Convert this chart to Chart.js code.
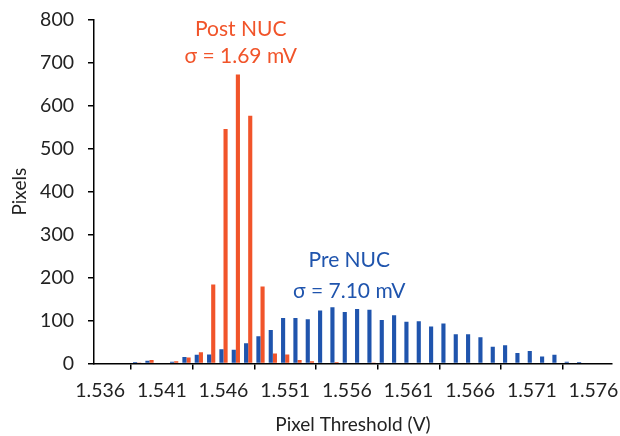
<!DOCTYPE html>
<html>
<head>
<meta charset="utf-8">
<script src="https://cdn.jsdelivr.net/npm/chart.js@4/dist/chart.umd.min.js"></script>
<style>
  html, body { margin: 0; padding: 0; background: #fff; }
  #wrap { width: 620px; height: 436px; }
</style>
</head>
<body>
<div id="wrap"><canvas id="histChart" width="620" height="436"></canvas></div>
<script>
// threshold bins, 1 mV wide
const thresholds = ["1.536", "1.537", "1.538", "1.539", "1.540", "1.541", "1.542", "1.543", "1.544", "1.545",
  "1.546", "1.547", "1.548", "1.549", "1.550", "1.551", "1.552", "1.553", "1.554", "1.555",
  "1.556", "1.557", "1.558", "1.559", "1.560", "1.561", "1.562", "1.563", "1.564", "1.565",
  "1.566", "1.567", "1.568", "1.569", "1.570", "1.571", "1.572", "1.573", "1.574", "1.575",
  "1.576", "1.577"];

// pixel counts per bin
const preNuc = [0, 0, 0, 3, 6, 0, 4, 15, 20, 21,
  33, 32, 47, 63, 78, 106, 106, 103, 123, 131,
  120, 127, 125, 101, 112, 97, 98, 86, 93, 68,
  68, 61, 39, 42, 24, 29, 16, 20, 4, 3,
  0, 0];
const postNuc = [0, 0, 0, 2, 8, 0, 5, 14, 26, 184,
  546, 673, 577, 179, 23, 21, 8, 5, 0, 3,
  0, 0, 1, 0, 0, 0, 0, 0, 0, 0,
  0, 0, 0, 0, 0, 0, 0, 0, 0, 0,
  0, 0];

const yTicks = [0, 100, 200, 300, 400, 500, 600, 700, 800];

const BLUE = "#1f54ad";
const ORANGE = "#f1542a";
const FONT = "Lato, 'Open Sans', sans-serif";

// sigma notes, placed in data coordinates (bin index, count)
const notes = [
  { lines: ["Post NUC", "σ = 1.69 mV"], x: 11.4, y: [779, 715], color: ORANGE },
  { lines: ["Pre NUC", "σ = 7.10 mV"], x: 20.2, y: [240, 167], color: BLUE }
];

const notePlugin = {
  id: "notes",
  afterDatasetsDraw(chart) {
    const { ctx, scales } = chart;
    ctx.save();
    ctx.font = "21px " + FONT;
    ctx.textAlign = "center";
    ctx.textBaseline = "middle";
    notes.forEach(n => {
      ctx.fillStyle = n.color;
      const px = scales.x.getPixelForValue(n.x);
      n.lines.forEach((t, i) => ctx.fillText(t, px, scales.y.getPixelForValue(n.y[i])));
    });
    ctx.restore();
  }
};

new Chart(document.getElementById("histChart"), {
  type: "bar",
  data: {
    labels: thresholds,
    datasets: [
      { label: "Pre NUC", data: preNuc, backgroundColor: BLUE },
      { label: "Post NUC", data: postNuc, backgroundColor: ORANGE }
    ]
  },
  options: {
    responsive: false,
    animation: false,
    devicePixelRatio: 1,
    layout: { padding: { top: 20, right: 8, left: 0, bottom: 0 } },
    datasets: { bar: { categoryPercentage: 0.67, barPercentage: 1.0 } },
    plugins: { legend: { display: false }, tooltip: { enabled: false } },
    scales: {
      x: {
        grid: { offset: true, drawOnChartArea: false, drawTicks: true, tickLength: 6, color: "#000", lineWidth: 1.5 },
        border: { display: true, color: "#000", width: 1.5 },
        ticks: {
          autoSkip: false,
          maxRotation: 0,
          padding: 10,
          color: "#222",
          font: { family: FONT, size: 19.5 },
          callback: (v, i) => (i % 5 === 0 ? thresholds[i] : null)
        },
        title: { display: true, text: "Pixel Threshold (V)", color: "#222", font: { family: FONT, size: 19 }, padding: { top: 2, bottom: 0 } },
        afterFit: s => { s.height = 72.6; s.paddingLeft = 0; s.paddingRight = 0; }
      },
      y: {
        min: 0,
        max: 800,
        afterBuildTicks: s => { s.ticks = yTicks.map(v => ({ value: v })); },
        grid: { drawOnChartArea: false, drawTicks: true, tickLength: 6, color: "#000", lineWidth: 1.5 },
        border: { display: true, color: "#000", width: 1.5 },
        ticks: { padding: 14, color: "#222", font: { family: FONT, size: 19.5 } },
        title: { display: true, text: "Pixels", color: "#222", font: { family: FONT, size: 19 }, padding: { top: 8, bottom: 0 } },
        afterFit: s => { s.width = 94; s.paddingTop = 0; s.paddingBottom = 0; }
      }
    }
  },
  plugins: [notePlugin]
});
</script>
</body>
</html>
